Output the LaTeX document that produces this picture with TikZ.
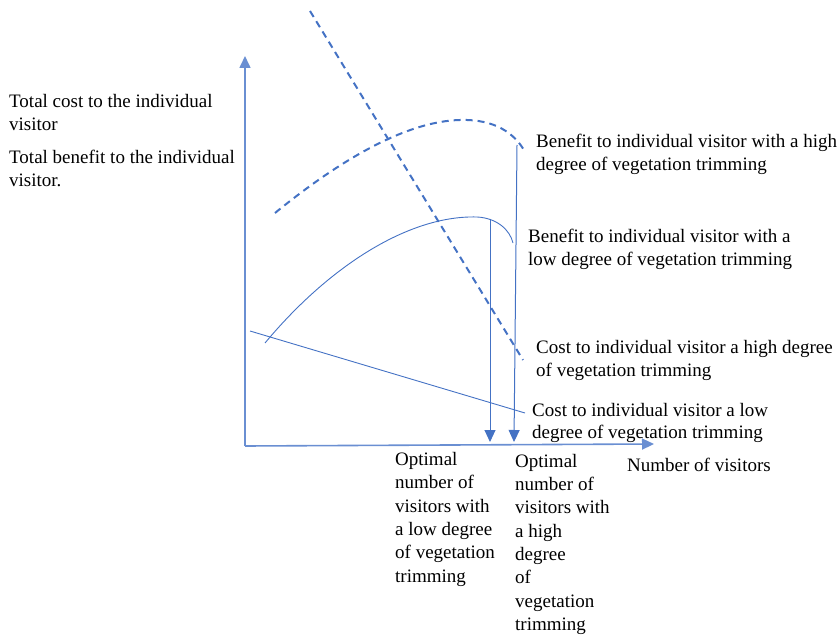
\documentclass[tikz,border=0pt]{standalone}
\usepackage{fontspec}
\setmainfont{Liberation Serif}
\newfontfamily\timesf{Liberation Serif}
\usetikzlibrary{arrows.meta}
\definecolor{lineblue}{HTML}{4472C4}
\definecolor{axisblue}{HTML}{6A8FD2}
\tikzset{
  lbl/.style={anchor=north west, inner sep=0pt, align=left, font=\timesf\fontsize{19}{23}\selectfont},
  axisline/.style={draw=axisblue, line width=1.6pt, -{Triangle[length=12pt,width=11pt]}, color=axisblue},
  thincurve/.style={draw=lineblue, line width=0.9pt},
  dashcurve/.style={draw=lineblue, line width=2pt, dash pattern=on 7pt off 5pt},
  droparrow/.style={draw=axisblue, line width=1pt, -{Triangle[length=12pt,width=11pt]}, color=lineblue},
}
\begin{document}
\begin{tikzpicture}[x=1pt,y=-1pt]
\useasboundingbox (0,0) rectangle (840,636);
% coordinates
\coordinate (O) at (245,446);
\coordinate (Ytop) at (245,56);
\coordinate (Xend) at (654,444);
\coordinate (dbs) at (275,213);
\coordinate (dbp) at (467,120);
\coordinate (dbe) at (525,152);
\coordinate (sbs) at (265,343);
\coordinate (sbp) at (477,217);
\coordinate (sbe) at (513,243);
\coordinate (dcs) at (310,11);
\coordinate (dce) at (523,360);
\coordinate (scs) at (250,331);
\coordinate (sce) at (525,413);
\coordinate (a1s) at (490,219);
\coordinate (a1e) at (490,442);
\coordinate (a2s) at (517,145);
\coordinate (a2e) at (514,442);
% axes
\draw[axisline] (O) -- (Ytop);
\draw[axisline] (O) -- (Xend);
% curves
\draw[dashcurve] (dbs) .. controls (340,160) and (410,118) .. (dbp) .. controls (500,121) and (517,137) .. (dbe);
\draw[dashcurve] (dcs) -- (dce);
\draw[thincurve] (sbs) .. controls (330,265) and (410,215) .. (sbp) .. controls (497,218) and (510,230) .. (sbe);
\draw[thincurve] (scs) -- (sce);
% drop arrows
\draw[droparrow] (a1s) -- (a1e);
\draw[droparrow] (a2s) -- (a2e);
% labels
\node[lbl] (lefta) at (9,94) {Total cost to the individual\\visitor};
\node[lbl] (leftb) at (9,150) {Total benefit to the individual\\visitor.};
\node[lbl] (bh) at (536,134) {Benefit to individual visitor with a high\\degree of vegetation trimming};
\node[lbl] (bl) at (528,229) {Benefit to individual visitor with a\\low degree of vegetation trimming};
\node[lbl] (ch) at (536,340) {Cost to individual visitor a high degree\\of vegetation trimming};
\node[lbl, font=\timesf\fontsize{19}{22}\selectfont] (cl) at (532,403) {Cost to individual visitor a low\\degree of vegetation trimming};
\node[lbl] (nv) at (627,458) {Number of visitors};
\node[lbl, font=\timesf\fontsize{19}{23.4}\selectfont] (ol) at (395,452) {Optimal\\number of\\visitors with\\a low degree\\of vegetation\\trimming};
\node[lbl, font=\timesf\fontsize{19}{23.3}\selectfont] (oh) at (515,454) {Optimal\\number of\\visitors with\\a high\\degree\\of\\vegetation\\trimming};
\end{tikzpicture}
\end{document}
